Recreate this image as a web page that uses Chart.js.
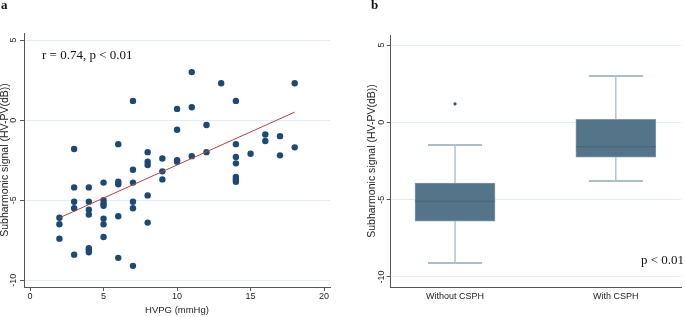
<!DOCTYPE html>
<html><head><meta charset="utf-8">
<script src="https://cdn.jsdelivr.net/npm/chart.js@4.4.0/dist/chart.umd.min.js"></script>
<style>
html,body{margin:0;padding:0;background:#fff;width:685px;height:317px;overflow:hidden;}
#ca{position:absolute;left:0;top:0;}
#cb{position:absolute;left:340px;top:0;}
.pl{position:absolute;font-family:"Liberation Serif","Times New Roman",serif;font-weight:bold;font-size:13px;line-height:13px;color:#111;}
.ann{position:absolute;font-family:"Liberation Serif","Times New Roman",serif;font-size:13px;line-height:13px;color:#111;white-space:nowrap;}
</style></head><body>
<canvas id="ca" width="340" height="317"></canvas>
<canvas id="cb" width="345" height="317"></canvas>
<div class="pl" style="left:1px;top:-1.6px">a</div>
<div class="pl" style="left:371px;top:-1.6px">b</div>
<div class="ann" style="left:42px;top:47.7px">r = 0.74, p &lt; 0.01</div>
<div class="ann" style="left:641px;top:253.4px">p &lt; 0.01</div>
<script>
// ---- Panel a: scatter data ----
const hvpg = [2,2,2, 3,3,3,3,3, 4,4,4,4,4,4,4, 5,5,5,5,5,5,5, 6,6,6,6,6, 7,7,7,7,7,7, 8,8,8,8,8, 9,9,9, 10,10,10,10, 11,11,11, 12,12, 13, 14,14,14,14,14,14,14, 15, 16,16, 17,17, 18,18];
const subharmonic = [-6.1,-6.5,-7.4, -1.8,-4.2,-5.1,-5.5,-8.4, -4.2,-5.1,-5.6,-5.9,-8.0,-8.1,-8.25, -3.9,-5.0,-5.2,-5.35,-6.15,-6.5,-7.3, -1.5,-3.85,-4.0,-6.0,-8.6, 1.2,-3.1,-3.9,-5.1,-5.5,-9.1, -2.0,-2.6,-2.8,-4.7,-6.4, -2.4,-3.2,-3.7, 0.7,-0.6,-2.5,-2.6, 3.0,0.8,-2.25, -0.3,-2.0, 2.3, 1.2,-1.5,-2.3,-2.7,-3.55,-3.7,-3.85, -2.1, -0.9,-1.3, -1.0,-2.2, 2.3,-1.7];
const fitX = [2, 18];
const fitY = [-6.1, 0.5];
const xTicksA = [0, 5, 10, 15, 20];
const yTicks = [-10, -5, 0, 5];

// ---- Panel b: box plot data ----
const groups = ['Without CSPH', 'With CSPH'];
const groupPos = [1, 2];
const boxQ1 = [-6.4, -2.26];
const boxQ3 = [-3.93, 0.2];
const boxMedian = [-5.1, -1.58];
const whiskerLow = [-9.1, -3.8];
const whiskerHigh = [-1.47, 3.0];
const outlierGroup = [1];
const outlierValue = [1.2];

const SANS = '"Liberation Sans", Arial, sans-serif';
const AXIS = '#555';
const GRID = '#e2ecf0';

function yAxis(width, min, max, tickPad, titlePadTop) {
  return {
    type: 'linear', min, max,
    afterFit(s) { s.width = width; },
    afterBuildTicks(s) { s.ticks = yTicks.map(v => ({value: v})); },
    border: {display: true, color: AXIS, width: 1},
    grid: {color: GRID, lineWidth: 1, tickColor: AXIS, tickLength: 4, drawTicks: true},
    ticks: {minRotation: 90, maxRotation: 90, crossAlign: 'center', padding: tickPad,
            color: '#222', font: {family: SANS, size: 9}},
    title: {display: true, text: 'Subharmonic signal (HV-PV(dB))', color: '#222',
            font: {family: SANS, size: 10.5, lineHeight: 1}, padding: {top: titlePadTop, bottom: 0}}
  };
}

new Chart(document.getElementById('ca'), {
  type: 'scatter',
  data: {
    datasets: [
      {
        type: 'line',
        data: fitX.map((x, i) => ({x, y: fitY[i]})),
        borderColor: '#b4433f', borderWidth: 1, pointRadius: 0, fill: false, tension: 0
      },
      {
        type: 'scatter',
        data: hvpg.map((x, i) => ({x, y: subharmonic[i]})),
        backgroundColor: '#1b4a77', borderColor: '#1b4a77', borderWidth: 0, pointRadius: 3.2
      }
    ]
  },
  options: {
    responsive: false, animation: false, devicePixelRatio: 1,
    layout: {padding: {top: 33, right: 10, left: 0, bottom: 0}},
    plugins: {legend: {display: false}, tooltip: {enabled: false}},
    scales: {
      x: {
        type: 'linear', min: -0.41, max: 20.4,
        afterFit(s) { s.height = 30; },
        afterBuildTicks(s) { s.ticks = xTicksA.map(v => ({value: v})); },
        border: {display: true, color: AXIS, width: 1},
        grid: {drawOnChartArea: false, drawTicks: true, tickLength: 4, tickColor: AXIS},
        ticks: {padding: 0, maxRotation: 0, color: '#222', font: {family: SANS, size: 9}},
        title: {display: true, text: 'HVPG (mmHg)', color: '#222',
                font: {family: SANS, size: 9.5, lineHeight: 1}, padding: {top: 0, bottom: 2}}
      },
      y: yAxis(24, -10.42, 5.44, 0, 0)
    }
  }
});

const boxPlugin = {
  id: 'boxParts',
  beforeDatasetsDraw(chart) {
    const {ctx, scales: {x, y}} = chart;
    ctx.save();
    groupPos.forEach((g, i) => {
      const px = x.getPixelForValue(g);
      ctx.strokeStyle = '#8aa5b6'; ctx.lineWidth = 1;
      ctx.beginPath();
      ctx.moveTo(px, y.getPixelForValue(boxQ3[i])); ctx.lineTo(px, y.getPixelForValue(whiskerHigh[i]));
      ctx.moveTo(px, y.getPixelForValue(boxQ1[i])); ctx.lineTo(px, y.getPixelForValue(whiskerLow[i]));
      ctx.stroke();
      ctx.strokeStyle = '#a9bdcb'; ctx.lineWidth = 2;
      ctx.beginPath();
      [whiskerHigh[i], whiskerLow[i]].forEach(v => {
        const py = y.getPixelForValue(v);
        ctx.moveTo(px - 27, py); ctx.lineTo(px + 27, py);
      });
      ctx.stroke();
    });
    ctx.restore();
  },
  afterDatasetsDraw(chart) {
    const {ctx, scales: {x, y}} = chart;
    ctx.save();
    ctx.strokeStyle = '#46687d'; ctx.lineWidth = 1;
    groupPos.forEach((g, i) => {
      const px = x.getPixelForValue(g);
      const py = y.getPixelForValue(boxMedian[i]);
      ctx.beginPath(); ctx.moveTo(px - 40, py); ctx.lineTo(px + 40, py); ctx.stroke();
    });
    ctx.restore();
  }
};

new Chart(document.getElementById('cb'), {
  type: 'bar',
  data: {
    datasets: [
      {
        type: 'bar',
        data: groupPos.map((g, i) => ({x: g, y: [boxQ1[i], boxQ3[i]]})),
        backgroundColor: '#537489', borderColor: '#7d99ab', borderWidth: 1, borderSkipped: false,
        barThickness: 80
      },
      {
        type: 'scatter',
        data: outlierGroup.map((g, i) => ({x: g, y: outlierValue[i]})),
        backgroundColor: '#2b5275', borderWidth: 0, pointRadius: 1.6
      }
    ]
  },
  options: {
    responsive: false, animation: false, devicePixelRatio: 1,
    layout: {padding: {top: 35, right: 3, left: 24, bottom: 0}},
    plugins: {legend: {display: false}, tooltip: {enabled: false}},
    scales: {
      x: {
        type: 'linear', min: 0.6, max: 2.405, offset: false,
        afterFit(s) { s.height = 30; },
        afterBuildTicks(s) { s.ticks = groupPos.map(v => ({value: v})); },
        border: {display: true, color: AXIS, width: 1},
        grid: {drawOnChartArea: false, drawTicks: false},
        ticks: {padding: 4, maxRotation: 0, color: '#222', font: {family: SANS, size: 9},
                callback: (v) => { const k = groupPos.indexOf(v); return k >= 0 ? groups[k] : ''; }}
      },
      y: yAxis(26.7, -10.65, 5.65, -1.6, 2.5)
    }
  },
  plugins: [boxPlugin]
});
</script>
</body></html>
